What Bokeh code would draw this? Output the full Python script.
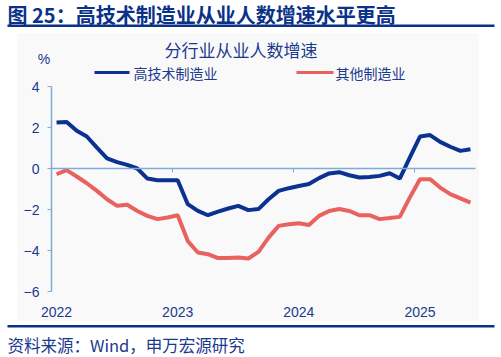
from bokeh.plotting import figure
from bokeh.models import (Range1d, LinearAxis, FixedTicker, Label, BoxAnnotation,
                          ColumnDataSource)
from bokeh.embed import file_html
from bokeh.resources import INLINE

# ---- data (monthly, Jan 2022 - Jun 2025) ----
years = [2022, 2023, 2024, 2025]
months = [f"{y}-{m:02d}" for y in years for m in range(1, 13)][:42]
high_tech = [2.24, 2.27, 1.84, 1.56, 1.02, 0.49, 0.31, 0.18, 0.00, -0.49, -0.57, -0.57,
             -0.57, -1.74, -2.07, -2.28, -2.10, -1.95, -1.82, -2.03, -1.98, -1.50, -1.09, -0.96,
             -0.85, -0.76, -0.47, -0.24, -0.18, -0.33, -0.44, -0.41, -0.36, -0.23, -0.49, 0.54,
             1.56, 1.63, 1.30, 1.06, 0.86, 0.94]
other_mfg = [-0.28, -0.08, -0.39, -0.72, -1.09, -1.50, -1.82, -1.77, -2.07, -2.31, -2.47, -2.39,
             -2.28, -3.54, -4.10, -4.18, -4.37, -4.37, -4.34, -4.39, -4.07, -3.37, -2.80, -2.72,
             -2.67, -2.76, -2.31, -2.07, -1.98, -2.07, -2.28, -2.28, -2.47, -2.42, -2.36, -1.41,
             -0.52, -0.52, -0.93, -1.25, -1.46, -1.66]
series_names = ["高技术制造业", "其他制造业"]
y_ticks = [-6, -4, -2, 0, 2, 4]
year_labels = ["2022", "2023", "2024", "2025"]

fig_title = "图 25：高技术制造业从业人数增速水平更高"
chart_title = "分行业从业人数增速"
unit_label = "%"
source_note = "资料来源：Wind，申万宏源研究"

BLUE = "#0B3291"
RED = "#E8625F"
AXIS = "#7FAADC"
TXT = "#1A3A8F"
DARK = "#0A3288"
CJK = "Noto Sans CJK SC"
LAT = "Liberation Sans"

W, H = 501, 357
# plot area in pixels: x 51..475, y 86..291 (from top)
PL, PR, PT, PB = 51, 475, 86, 291
n = len(months)
ymin, ymax = min(y_ticks), max(y_ticks)
xu = (PR - PL) / n
yu = (PB - PT) / (ymax - ymin)
x_range = Range1d(-0.5 - PL / xu, n - 0.5 + (W - PR) / xu)
y_range = Range1d(ymin - (H - PB) / yu, ymax + PT / yu)

idx = list(range(n))
src = ColumnDataSource(dict(x=idx, m=months, a=high_tech, b=other_mfg))

p = figure(width=W, height=H, output_backend="svg", toolbar_location=None,
           x_range=x_range, y_range=y_range, min_border=0,
           x_axis_location=None, y_axis_location=None)
p.outline_line_color = None
p.xgrid.visible = False
p.ygrid.visible = False
p.border_fill_color = "white"
p.background_fill_color = "white"


def box(left, right, top, bottom, color, level="annotation"):
    p.add_layout(BoxAnnotation(left=left, right=right, top=top, bottom=bottom,
                               left_units="screen", right_units="screen",
                               top_units="screen", bottom_units="screen",
                               fill_color=color, fill_alpha=1, line_color=None, level=level))


def label(x, y, text, font, size, color, align="left", style="normal"):
    # x, y given in pixels from the picture's top-left
    p.add_layout(Label(x=x, y=H - y, x_units="screen", y_units="screen", text=text,
                       text_font=font, text_font_size=size, text_color=color,
                       text_font_style=style, text_baseline="middle", text_align=align))


def hbox(x0, x1, y0, y1, color, level="annotation"):
    box(x0, x1, H - y0, H - y1, color, level)


# light grey chart panel
hbox(17, 478, 33, 321, "#F9F9F9", level="underlay")

r1 = p.line("x", "a", source=src, line_color=BLUE, line_width=4)
r2 = p.line("x", "b", source=src, line_color=RED, line_width=4)

# y axis
ya = LinearAxis(ticker=FixedTicker(ticks=y_ticks), fixed_location=-0.5, bounds=(ymin, ymax))
ya.axis_line_color = AXIS
ya.axis_line_width = 1.5
ya.major_tick_line_color = AXIS
ya.major_tick_out = 4
ya.major_tick_in = 0
ya.minor_tick_line_color = None
ya.major_label_standoff = 8
ya.major_label_text_font = LAT
ya.major_label_text_font_size = "14px"
ya.major_label_text_color = TXT
p.add_layout(ya, "left")

# zero line axis with year-boundary ticks
jan_idx = [i for i, m in enumerate(months) if m.endswith("-01")]
za = LinearAxis(fixed_location=0, bounds=(-0.5, n - 0.5),
                ticker=FixedTicker(ticks=[i - 0.5 for i in jan_idx[1:]]))
za.axis_line_color = AXIS
za.axis_line_width = 1.5
za.major_tick_line_color = AXIS
za.major_tick_out = 4
za.major_tick_in = 0
za.minor_tick_line_color = None
za.major_label_text_color = None
p.add_layout(za, "below")

# bottom axis with year labels
xa = LinearAxis(fixed_location=ymin, ticker=FixedTicker(ticks=jan_idx),
                major_label_overrides={i: y for i, y in zip(jan_idx, year_labels)})
xa.axis_line_color = None
xa.major_tick_line_color = None
xa.minor_tick_line_color = None
xa.major_label_standoff = 9
xa.major_label_text_font = LAT
xa.major_label_text_font_size = "14px"
xa.major_label_text_color = TXT
p.add_layout(xa, "below")

# legend (drawn above the plot area)
hbox(94, 129, 70.5, 73.5, BLUE)
label(133, 72.5, series_names[0], CJK, "14px", TXT)
hbox(296, 333, 70.5, 73.5, RED)
label(335, 72.5, series_names[1], CJK, "14px", TXT)

# titles and texts
label(7, 14, fig_title, CJK, "20px", DARK, style="bold")
hbox(7, 494, 24, 26.5, DARK)
label(240.5, 49, chart_title, CJK, "17px", TXT, align="center")
label(43.5, 58.5, unit_label, LAT, "14px", TXT, align="center")
hbox(7, 494, 324.5, 327, DARK)
label(7, 344, source_note, CJK, "16.5px", TXT)

open("out.html", "w").write(file_html(p, INLINE))
